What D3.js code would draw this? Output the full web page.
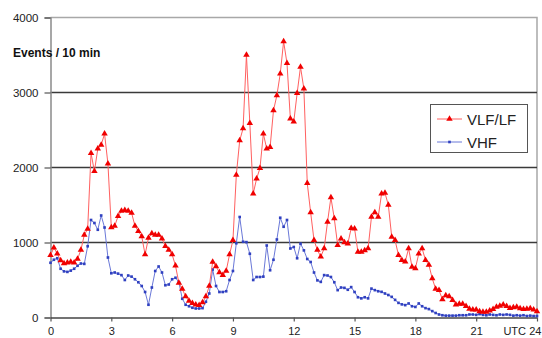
<!DOCTYPE html>
<html>
<head>
<meta charset="utf-8">
<script src="https://cdn.jsdelivr.net/npm/d3@7"></script>
<style>
  html, body { margin: 0; padding: 0; background: #fff; }
  svg { display: block; font-family: "Liberation Sans", Arial, sans-serif; }
</style>
</head>
<body>
<svg id="chart" width="542" height="338"></svg>
<script>
// Lightning event counts per 10-minute interval over one UTC day
const stepHours = 1 / 6;

const vlfLf = [
  830, 930, 850, 760, 720, 730, 740, 730, 780, 900, 1100, 1180,
  2190, 1950, 2250, 2300, 2450, 2050, 1200, 1220, 1350, 1420, 1430, 1420,
  1395, 1220, 1150, 1080, 840, 1060, 1120, 1100, 1100, 1050, 950, 900,
  840, 690, 460, 380, 280, 220, 190, 170, 165, 200, 280, 420,
  740, 680, 600, 565, 620, 840, 1030, 1900, 2360, 2520, 3500, 2590,
  1650, 1850, 1990, 2450, 2250, 2270, 2760, 2960, 3250, 3680, 3390, 2650,
  2610, 2990, 3340, 3050, 1790, 1400, 1030, 900, 810, 920, 1275, 1600,
  1320, 965, 1050, 1000, 985, 1190, 1185, 875, 875, 895, 920, 1340,
  1400, 1340, 1650, 1660, 1500, 1075, 1030, 830, 765, 745, 920, 675,
  655, 850, 920, 765, 700, 520, 380, 365, 240, 295, 280, 230,
  170, 180, 180, 150, 115, 105, 105, 80, 75, 75, 90, 110,
  140, 155, 170, 150, 125, 135, 140, 120, 110, 115, 120, 105,
  80
];

const vhf = [
  730, 770, 790, 650, 615, 608, 625, 650, 690, 720, 715, 950,
  1300, 1260, 1170, 1360, 1200, 800, 590, 600, 585, 565, 500, 560,
  545, 510, 470, 420, 340, 170, 400, 620, 680, 600, 430, 440,
  510, 530, 470, 250, 170, 150, 130, 120, 120, 125, 210, 320,
  640, 420, 340, 340, 350, 500, 620, 990, 1340, 1010, 1005, 850,
  500, 540, 540, 545, 960, 630, 770, 1040, 1330, 1210, 1300, 920,
  940, 790, 985, 895, 780, 740, 600, 495, 475, 565, 560, 540,
  470, 365, 400, 395, 370, 405, 340, 270, 255, 270, 255, 385,
  365, 350, 342, 320, 300, 275, 235, 195, 175, 165, 187, 150,
  141, 187, 150, 125, 112, 85, 60, 40, 30, 25, 25, 25,
  25, 30, 30, 30, 40, 40, 35, 45, 35, 30, 40, 35,
  30, 40, 35, 40, 35, 25, 30, 25, 30, 20, 25, 20,
  20
];

const yTicks = [0, 1000, 2000, 3000, 4000];
const xTicks = [0, 3, 6, 9, 12, 15, 18, 21, 24];
const xTickLabels = ["0", "3", "6", "9", "12", "15", "18", "21", "24"];
const seriesNames = ["VLF/LF", "VHF"];
const yTitle = "Events / 10 min";
const xUnit = "UTC";

const svg = d3.select("#chart");
const plotL = 50.5, plotR = 537, plotT = 17.5, plotB = 317.5;

const x = d3.scaleLinear().domain([0, 24]).range([plotL, plotR]);
const y = d3.scaleLinear().domain([0, 4000]).range([plotB, plotT]);

// plot frame (top and right edges)
svg.append("path")
  .attr("d", `M${plotL},${plotT}H${plotR}V${plotB}`)
  .attr("fill", "none").attr("stroke", "#a8a8a8").attr("stroke-width", 1.5);

// horizontal gridlines
svg.append("g")
  .selectAll("line")
  .data(yTicks.filter(v => v > 0 && v < 4000))
  .join("line")
  .attr("x1", plotL).attr("x2", plotR)
  .attr("y1", d => y(d)).attr("y2", d => y(d))
  .attr("stroke", "#3a3a3a").attr("stroke-width", 1.4);

// y axis
const yAxis = svg.append("g")
  .attr("transform", `translate(${plotL},0)`)
  .call(d3.axisLeft(y).tickValues(yTicks).tickSize(6).tickPadding(6).tickFormat(d3.format("d")));
yAxis.select(".domain").attr("stroke", "#8a8a8a").attr("stroke-width", 1.5);
yAxis.selectAll(".tick line").attr("stroke", "#555").attr("stroke-width", 1.2);
yAxis.selectAll(".tick text")
  .attr("font-size", 11.5).attr("fill", "#222")
  .attr("font-family", "Liberation Sans, Arial, sans-serif");

// x axis
const xAxis = svg.append("g")
  .attr("transform", `translate(0,${plotB})`)
  .call(d3.axisBottom(x).tickValues(xTicks).tickSize(4).tickSizeOuter(0)
    .tickFormat((d, i) => xTickLabels[i]));
xAxis.select(".domain").attr("stroke", "#444").attr("stroke-width", 1.5);
xAxis.selectAll(".tick line").attr("stroke", "#555").attr("stroke-width", 1.2);
xAxis.selectAll(".tick text")
  .attr("font-size", 11).attr("fill", "#222")
  .attr("font-family", "Liberation Sans, Arial, sans-serif")
  .attr("y", 0).attr("dy", 0)
  .attr("transform", "translate(0,17.5)");
// last label kept inside the right edge, with the time unit before it
xAxis.selectAll(".tick text").filter(d => d === 24)
  .attr("text-anchor", "end").attr("x", 4);
svg.append("text")
  .attr("x", x(24) - 11).attr("y", plotB + 17.5)
  .attr("text-anchor", "end")
  .attr("font-size", 11).attr("fill", "#222")
  .text(xUnit);

// y title
svg.append("text")
  .attr("x", 13).attr("y", 57)
  .attr("font-size", 12).attr("font-weight", "bold").attr("fill", "#111")
  .text(yTitle);

const line = d3.line()
  .x((d, i) => x(i * stepHours))
  .y(d => y(d));

const tri = d3.symbol().type(d3.symbolTriangle).size(18);
const sq = d3.symbol().type(d3.symbolSquare).size(7);

// VHF series
svg.append("path").datum(vhf)
  .attr("d", line)
  .attr("fill", "none").attr("stroke", "#6a78d8").attr("stroke-width", 1);
svg.append("g").selectAll("path")
  .data(vhf)
  .join("path")
  .attr("transform", (d, i) => `translate(${x(i * stepHours)},${y(d)})`)
  .attr("d", sq)
  .attr("fill", "#2f40c0");

// VLF/LF series
svg.append("path").datum(vlfLf)
  .attr("d", line)
  .attr("fill", "none").attr("stroke", "#ff6060").attr("stroke-width", 1);
svg.append("g").selectAll("path")
  .data(vlfLf)
  .join("path")
  .attr("transform", (d, i) => `translate(${x(i * stepHours)},${y(d)})`)
  .attr("d", tri)
  .attr("fill", "#f00000");

// legend
const lg = svg.append("g");
lg.append("rect")
  .attr("x", 430.5).attr("y", 104.5).attr("width", 97).attr("height", 48)
  .attr("fill", "#fff").attr("stroke", "#555").attr("stroke-width", 1);
const legendRows = [
  { name: seriesNames[0], color: "#ff6060", mark: "#f00000", sym: tri, yy: 119 },
  { name: seriesNames[1], color: "#6a78d8", mark: "#2f40c0", sym: sq, yy: 142 }
];
legendRows.forEach(r => {
  lg.append("line").attr("x1", 437).attr("x2", 462).attr("y1", r.yy).attr("y2", r.yy)
    .attr("stroke", r.color).attr("stroke-width", 1);
  lg.append("path").attr("transform", `translate(449.5,${r.yy})`).attr("d", r.sym).attr("fill", r.mark);
  lg.append("text").attr("x", 467).attr("y", r.yy + 5.5)
    .attr("font-size", 15).attr("fill", "#222").text(r.name);
});
</script>
</body>
</html>
